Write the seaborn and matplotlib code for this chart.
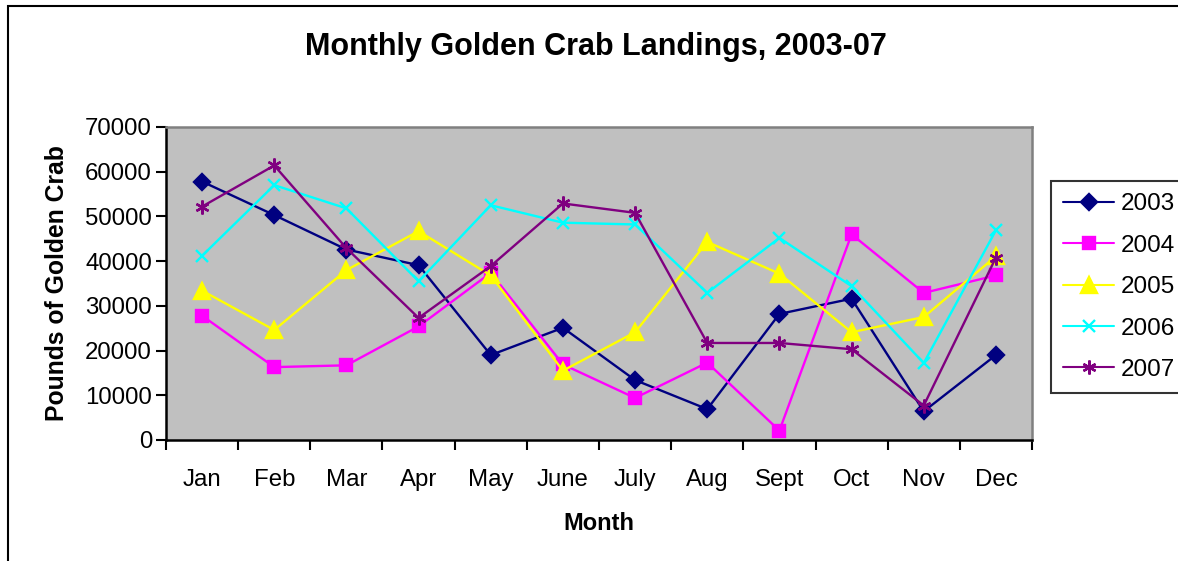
import pandas as pd
import matplotlib.pyplot as plt
import seaborn as sns
from matplotlib.patches import Rectangle

# Data
months = ["Jan", "Feb", "Mar", "Apr", "May", "June", "July", "Aug", "Sept", "Oct", "Nov", "Dec"]
years = ["2003", "2004", "2005", "2006", "2007"]
y2003 = [57800, 50300, 42600, 39100, 19000, 25100, 13400, 6900, 28200, 31600, 6400, 19000]
y2004 = [27800, 16300, 16700, 25400, 37400, 16900, 9400, 17300, 2100, 46000, 32900, 36800]
y2005 = [33400, 24600, 38000, 46700, 36800, 15500, 24100, 44300, 37200, 24100, 27500, 41100]
y2006 = [41200, 57000, 51800, 35500, 52500, 48600, 48200, 32900, 45200, 34400, 17200, 46900]
y2007 = [52200, 61400, 42900, 27300, 38900, 52900, 50800, 21700, 21700, 20300, 7700, 40800]

colors = {"2003": "#000080", "2004": "#FF00FF", "2005": "#FFFF00",
          "2006": "#00FFFF", "2007": "#800080"}
markers = {"2003": "D", "2004": "s", "2005": "^", "2006": "x", "2007": (6, 2, 0)}
msizes = {"2003": 8, "2004": 9, "2005": 11, "2006": 9, "2007": 10}

rows = []
for yr, vals in zip(years, [y2003, y2004, y2005, y2006, y2007]):
    for i, v in enumerate(vals):
        rows.append({"Month": i, "Pounds": v, "Year": yr})
df = pd.DataFrame(rows)

sns.set_style("white")
plt.rcParams["font.family"] = ["Liberation Sans", "DejaVu Sans"]
plt.rcParams["text.color"] = "black"
plt.rcParams["axes.labelcolor"] = "black"
plt.rcParams["xtick.color"] = "black"
plt.rcParams["ytick.color"] = "black"

fig = plt.figure(figsize=(11.78, 5.61), dpi=100)
ax = fig.add_axes([166 / 1178, 1 - 440 / 561, (1032 - 166) / 1178, (440 - 127) / 561])
ax.set_facecolor("#C0C0C0")

for yr in years:
    sub = df[df["Year"] == yr]
    sns.lineplot(data=sub, x="Month", y="Pounds", ax=ax, color=colors[yr],
                 marker=markers[yr], markersize=msizes[yr], linewidth=1.7,
                 markeredgecolor=colors[yr], markeredgewidth=1.7, label=yr)

ax.set_xlim(-0.5, 11.5)
ax.set_ylim(0, 70000)
ax.set_yticks(range(0, 70001, 10000))
ax.set_yticklabels([str(v) for v in range(0, 70001, 10000)], fontsize=17.3)
ax.set_xticks([i - 0.5 for i in range(13)])
ax.set_xticklabels([])
ax.set_xticks(range(12), minor=True)
ax.set_xticklabels(months, minor=True, fontsize=17.3)
ax.tick_params(axis="x", which="minor", length=0, pad=21)
ax.tick_params(axis="x", which="major", direction="out", length=7, width=1.5, color="black")
ax.tick_params(axis="y", direction="out", length=7, width=1.5, color="black", pad=3)
ax.tick_params(left=True, bottom=True)

for s in ["left", "bottom"]:
    ax.spines[s].set_color("black")
    ax.spines[s].set_linewidth(1.8)
for s in ["top", "right"]:
    ax.spines[s].set_color("#808080")
    ax.spines[s].set_linewidth(1.8)

ax.set_xlabel("Month", fontsize=17, fontweight="bold", labelpad=15)
ax.set_ylabel("Pounds of Golden Crab", fontsize=17.8, fontweight="bold", labelpad=12)

fig.text(596 / 1178, 1 - 47 / 561, "Monthly Golden Crab Landings, 2003-07",
         ha="center", va="center", fontsize=22, fontweight="bold")

# outer chart border
fig.patches.append(Rectangle((8 / 1178, -0.1), 1.2, 1 - 6 / 561 + 0.1,
                             transform=fig.transFigure, fill=False,
                             edgecolor="black", linewidth=1.5))

leg = ax.legend(loc="upper left", bbox_to_anchor=(1051 / 1178, 1 - 181 / 561),
                bbox_transform=fig.transFigure, frameon=True, fancybox=False,
                fontsize=17.5, handlelength=2.1, handletextpad=0.25,
                labelspacing=0.8, borderpad=0.5, borderaxespad=0)
leg.get_frame().set_edgecolor("black")
leg.get_frame().set_linewidth(1.5)
for line in leg.get_lines():
    line.set_linewidth(1.5)

plt.savefig("out.png", dpi=100)
